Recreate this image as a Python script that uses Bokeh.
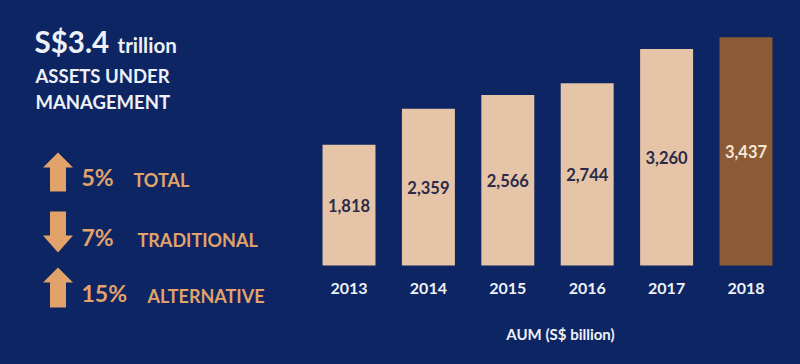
from bokeh.plotting import figure
from bokeh.models import ColumnDataSource, Label
from bokeh.core.properties import value
from bokeh.core.templates import get_env
from bokeh.embed import file_html
from bokeh.resources import INLINE

# ---- data ----
years = ["2013", "2014", "2015", "2016", "2017", "2018"]
aum = [1818, 2359, 2566, 2744, 3260, 3437]
aum_labels = ["1,818", "2,359", "2,566", "2,744", "3,260", "3,437"]
bar_colors = ["#E5C4A7", "#E5C4A7", "#E5C4A7", "#E5C4A7", "#E5C4A7", "#8C5A34"]
value_colors = ["#2C2A48", "#2C2A48", "#2C2A48", "#2C2A48", "#2C2A48", "#F4E8D8"]
headline = "S$3.4"
headline_unit = "trillion"
headline_lines = ["ASSETS UNDER", "MANAGEMENT"]
change_pcts = ["5%", "7%", "15%"]
change_names = ["TOTAL", "TRADITIONAL", "ALTERNATIVE"]
change_dirs = ["up", "down", "up"]
axis_title = "AUM (S$ billion)"

BG = "#0D2663"
ORANGE = "#E2A36B"
WHITE = "#EEF1F7"
FONT = value("Lato")

# ---- layout helpers (page pixel -> data) ----
W, H = 800, 364
PPX = 79.4      # pixels per category
X0 = 348.5      # page x of first bar centre
PPY = 0.06643   # pixels per S$ billion
BASE = 265.0    # page y of bar baseline

def X(px):
    return (px - X0) / PPX

def Y(py):
    return (BASE - py) / PPY

def label(x, baseline, text, color, size):
    # place text so that its alphabetic baseline sits at page y = baseline
    return Label(x=X(x), y=Y(baseline + 0.17 * size), text=text, text_color=color,
                 text_font="Lato", text_font_style="bold", text_font_size=f"{size}px",
                 text_baseline="bottom")

p = figure(width=W, height=H, x_range=(X(0), X(W)), y_range=(Y(H), Y(0)),
           output_backend="svg", toolbar_location=None, min_border=0,
           x_axis_location=None, y_axis_location=None,
           background_fill_color=BG, border_fill_color=BG, outline_line_color=None)
p.grid.visible = False

idx = list(range(len(years)))
src = ColumnDataSource(dict(x=idx, top=aum, color=bar_colors, label=aum_labels,
                            mid=[v / 2 for v in aum], vcol=value_colors, year=years,
                            ylab=[Y(288)] * len(years)))
p.vbar(x="x", top="top", bottom=0, width=0.667, fill_color="color", line_color=None, source=src)
p.text(x="x", y="mid", text="label", text_color="vcol", text_font=FONT, text_font_style="bold",
       text_font_size="16.5px", text_align="center", text_baseline="middle", source=src)
p.text(x="x", y="ylab", text="year", text_color=WHITE, text_font=FONT, text_font_style="bold",
       text_font_size="16px", text_align="center", text_baseline="middle", source=src)

p.add_layout(Label(x=X(560), y=Y(333), text=axis_title, text_color=WHITE, text_font="Lato",
                   text_font_style="bold", text_font_size="15px", text_align="center",
                   text_baseline="middle"))

# ---- left panel ----
p.add_layout(label(34, 53, headline, WHITE, 29.5))
p.add_layout(label(117, 53, headline_unit, WHITE, 20.5))
for line, by in zip(headline_lines, [83, 109]):
    p.add_layout(label(35, by, line, WHITE, 18.5))

rows = [(152, 191), (211, 252), (267, 307)]
pct_base = [187, 247, 303]
name_x = [133, 137, 147]
cx = 57.5
xs_list, ys_list = [], []
for (top, bot), d in zip(rows, change_dirs):
    if d == "up":
        hb = top + 15
        pts = [(cx, top), (cx + 15, hb), (cx + 8, hb), (cx + 8, bot), (cx - 8, bot), (cx - 8, hb), (cx - 15, hb)]
    else:
        hb = bot - 17
        pts = [(cx, bot), (cx + 15, hb), (cx + 8, hb), (cx + 8, top), (cx - 8, top), (cx - 8, hb), (cx - 15, hb)]
    xs_list.append([X(a) for a, b in pts])
    ys_list.append([Y(b) for a, b in pts])
p.patches(xs=xs_list, ys=ys_list, fill_color=ORANGE, line_color=None)

for base, pct, name, nx in zip(pct_base, change_pcts, change_names, name_x):
    p.add_layout(label(81, base, pct, ORANGE, 23))
    p.add_layout(label(nx, base, name, ORANGE, 18))

tpl = """{% extends "file.html" %}
{% block preamble %}<style>html, body { background: #0D2663; margin: 0; padding: 0; overflow: hidden; }</style>{% endblock %}
"""
template = get_env().from_string(tpl)
open("out.html", "w").write(file_html(p, INLINE, template=template))
